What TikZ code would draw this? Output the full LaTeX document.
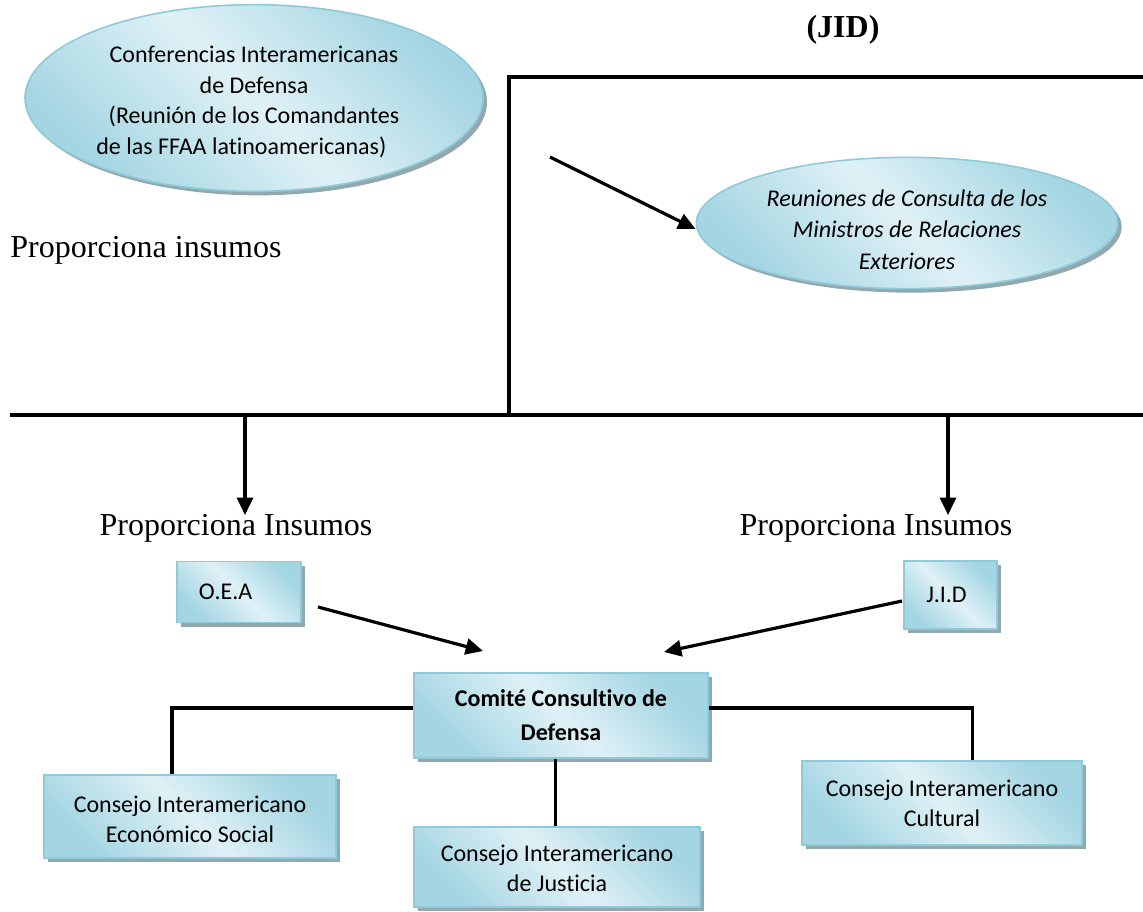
\documentclass[tikz,border=0pt]{standalone}
\usepackage{fontspec}
\setmainfont[Ligatures=NoCommon]{Carlito}
\newfontfamily\tnr{Liberation Serif}
\usetikzlibrary{arrows.meta,shapes.geometric,shadows}
\definecolor{bdark}{HTML}{A3D5E2}
\definecolor{blight}{HTML}{DFF1F6}
\definecolor{bedge}{HTML}{8FCADB}
\definecolor{shgray}{HTML}{93A7AF}
\tikzset{
  bluefill/.style={left color=bdark, right color=bdark, middle color=blight, shading angle=135,
    draw=bedge, line width=1.2pt,
    drop shadow={shadow xshift=3pt, shadow yshift=-3pt, fill=shgray, opacity=1}},
  oval/.style={ellipse, bluefill, inner sep=0pt, font=\fontsize{18}{23}\selectfont, align=center},
  boxnode/.style={rectangle, bluefill, inner sep=0pt, font=\fontsize{18}{22.5}\selectfont, align=center},
  serlabel/.style={font=\tnr\fontsize{24}{28}\selectfont, inner sep=0pt},
  thickline/.style={line width=2.6pt},
  conn/.style={line width=2.4pt},
  arr/.style={line width=2.4pt, -{Triangle[length=13pt,width=12pt]}}
}
\begin{document}
\begin{tikzpicture}[x=0.75pt,y=-0.75pt]
\useasboundingbox (0,0) rectangle (1143,911);
% frame lines
\coordinate (vtop) at (509,77);
\coordinate (tr) at (1143,77);
\coordinate (vbot) at (509,415);
\coordinate (hl) at (10,415);
\coordinate (hr) at (1143,415);
\draw[thickline] (tr) -- (vtop) -- (vbot);
\draw[thickline] (hl) -- (hr);

% ellipses
\node[oval, minimum width=343.5pt, minimum height=140pt] (conf) at (254,98)
  {\rule{0pt}{18pt}Conferencias Interamericanas\\de Defensa\\(Reunión de los Comandantes\hspace*{19pt}\\de las FFAA latinoamericanas)\hspace*{19pt}};
\node[oval, minimum width=316pt, minimum height=97.5pt, font=\fontsize{18}{23.5}\selectfont\itshape] (reun) at (907,223)
  {\rule{0pt}{22.5pt}Reuniones de Consulta de los\\Ministros de Relaciones\\Exteriores};

% labels
\node[font=\tnr\bfseries\fontsize{24}{28}\selectfont, inner sep=0pt] (jid) at (843,30) {(JID)};
\node[serlabel] (pi0) at (146,250) {Proporciona insumos};
\node[serlabel] (pi1) at (236,528) {Proporciona Insumos};
\node[serlabel] (pi2) at (876,528) {Proporciona Insumos};

% arrow into reuniones
\coordinate (a0) at (550,157);
\draw[arr] (a0) -- (reun.west |- 0,229) ;

% down arrows
\coordinate (d1s) at (245,415);
\coordinate (d1e) at (245,515);
\coordinate (d2s) at (948,415);
\coordinate (d2e) at (948,515);
\draw[arr] (d1s) -- (d1e);
\draw[arr] (d2s) -- (d2e);

% boxes
\node[boxnode, minimum width=93pt, minimum height=45.75pt] (oea) at (239,592) {O.E.A\hspace*{20pt}};
\node[boxnode, minimum width=69.75pt, minimum height=51pt] (jidb) at (950.5,595) {J.I.D\hspace*{6pt}};
\node[boxnode, minimum width=220.5pt, minimum height=63.75pt, font=\fontsize{18}{25.5}\selectfont\bfseries] (com) at (561,715.5) {Comité Consultivo de\\Defensa};
\node[boxnode, minimum width=219pt, minimum height=62.25pt] (eco) at (190,816.5) {\rule{0pt}{16pt}Consejo Interamericano\\Económico Social};
\node[boxnode, minimum width=214.5pt, minimum height=60pt] (jus) at (557,867) {\rule{0pt}{15pt}Consejo Interamericano\\de Justicia};
\node[boxnode, minimum width=210pt, minimum height=63pt] (cul) at (942,803) {Consejo Interamericano\\Cultural};

% arrows into comite
\coordinate (o1) at (318,607);
\coordinate (o2) at (483,651);
\coordinate (j1) at (902,601);
\coordinate (j2) at (664,652);
\draw[arr] (o1) -- (o2);
\draw[arr] (j1) -- (j2);

% connectors
\draw[conn] (com.west |- 0,708) -| ([xshift=-13.5pt]eco.north);
\draw[conn] (com.east |- 0,708) -| ([xshift=23pt]cul.north);
\draw[conn] ([xshift=-4pt]com.south) -- ([xshift=-4pt]com.south |- jus.north);
\end{tikzpicture}
\end{document}
